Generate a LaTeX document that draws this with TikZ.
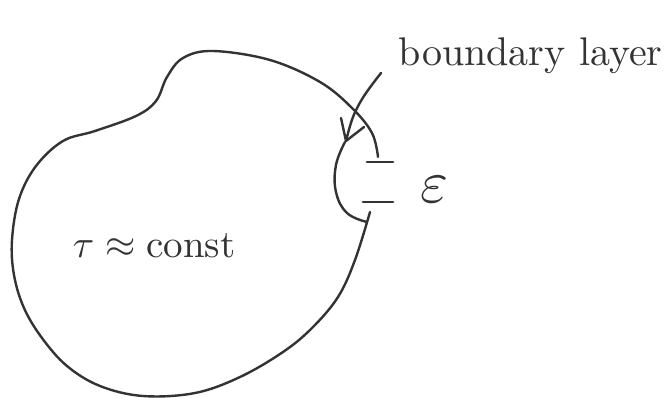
\documentclass[tikz,border=0pt]{standalone}
\usepackage{fontspec}
\begin{document}
\begin{tikzpicture}[x=1pt,y=-1pt,
  ink/.style={draw=black!80,line width=2.4pt,line cap=round,line join=round},
  hand/.style={text=black!80,inner sep=0pt}]
\useasboundingbox (0,0) rectangle (667,398);
% outer region
\draw[ink] plot[smooth,tension=0.6] coordinates {
  (378,157) (372,133) (352,108) (320,82) (270,60) (213,51) (183,58)
  (167,77) (156,101) (136,116) (95,131) (63,141) (36,166)
  (19,199) (12,240) (14,275) (24,308) (42,338) (67,366) (100,386) (143,396)
  (195,393) (240,377) (283,352) (312,328) (338,297) (355,260) (370,212)};
% boundary layer
\draw[ink] plot[smooth,tension=0.7] coordinates {
  (345,142) (336,165) (336,192) (347,213) (367,222)};
% thickness marks
\draw[ink,line width=2.8pt] (367,162) -- (393,162);
\draw[ink,line width=2.8pt] (363,202) -- (393,202);
% arrow
\coordinate (tip) at (346,141);
\draw[ink] plot[smooth,tension=0.6] coordinates {(381,73) (364,96) (353,117) (346,141)};
\draw[ink] (341,118) -- (tip) -- (364,127);
% labels
\node[hand,anchor=base west,scale=4] (bl) at (398,66) {boundary layer};
\node[hand,scale=6] (eps) at (434,190) {$\varepsilon$};
\node[hand,anchor=base west,scale=3.9] (tc) at (72,258) {$\tau\approx{}$const};
\end{tikzpicture}
\end{document}
